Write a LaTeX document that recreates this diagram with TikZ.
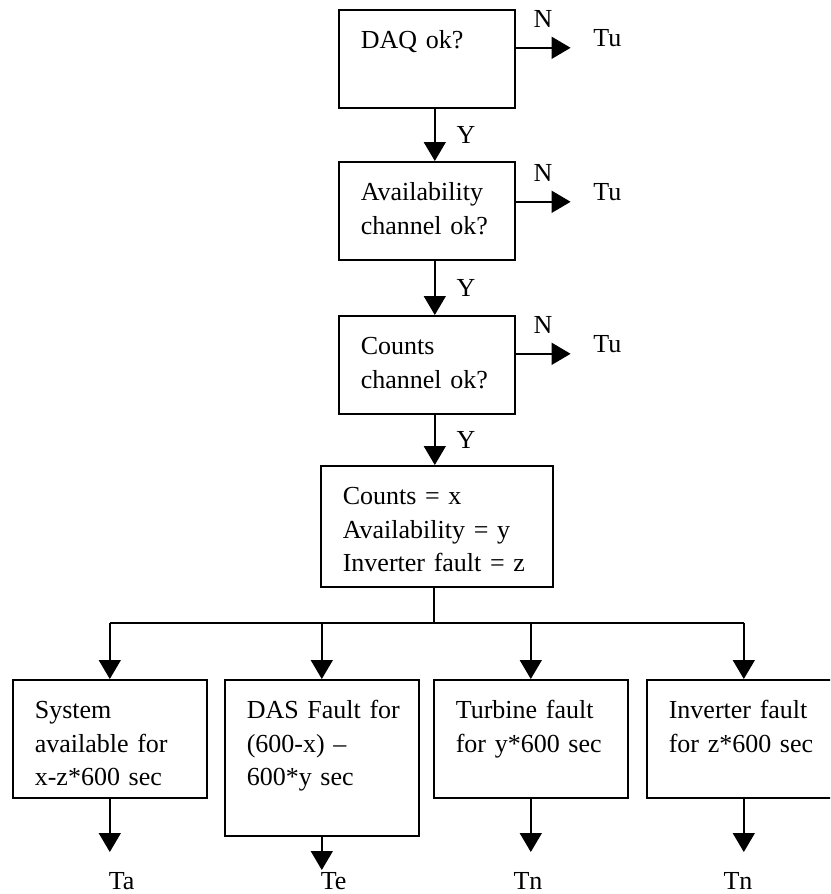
\documentclass[tikz,border=0pt]{standalone}
\usepackage{fontspec}
\setmainfont{Liberation Serif}
\usetikzlibrary{arrows.meta,shapes}

\tikzset{box/.style={draw,line width=.8pt,anchor=north west,align=left,inner xsep=11pt,inner ysep=0pt,text height=19.5pt},
lbl/.style={inner sep=0pt}}

\begin{document}
\begin{tikzpicture}[x=.5pt,y=-.5pt,>={Triangle[length=9.5pt,width=11pt]},line width=.8pt,font=\fontsize{13}{16.7}\selectfont]
\useasboundingbox (0,0) rectangle (830,894);
\clip (0,0) rectangle (830,894);
% checks
\node[box,text width=66pt,text depth=29.5pt] (daq) at (338,9) {DAQ ok?};
\node[box,text width=66pt,text depth=29.5pt] (avail) at (338,161) {Availability\\channel ok?};
\node[box,text width=66pt,text depth=29.5pt] (counts) at (338,315) {Counts\\channel ok?};
\node[box,text width=94pt,text depth=41pt] (vals) at (320,465) {Counts = x\\Availability = y\\Inverter fault = z};
% outcomes
\node[box,text width=75pt,text depth=39.5pt] (sys) at (12,679) {System\\available for\\x-z*600 sec};
\node[box,text width=75pt,text depth=58.5pt] (das) at (224,679) {\mbox{DAS Fault for}\\(600-x) --\\600*y sec};
\node[box,text width=75pt,text depth=39.5pt] (turb) at (433,679) {Turbine fault\\for y*600 sec};
\node[box,text width=75pt,text depth=39.5pt] (inv) at (646,679) {Inverter fault\\for z*600 sec};
% N branches
\coordinate (u1) at ([xshift=27.5pt,yshift=5.5pt]daq.east);
\coordinate (u2) at ([xshift=27.5pt,yshift=4.5pt]avail.east);
\coordinate (u3) at ([xshift=27.5pt,yshift=5.5pt]counts.east);
\draw[->] (daq.east |- u1) -- (u1) node[lbl,midway,above=10pt]{N};
\draw[->] (avail.east |- u2) -- (u2) node[lbl,midway,above=10pt]{N};
\draw[->] (counts.east |- u3) -- (u3) node[lbl,midway,above=10pt]{N};
\node[lbl,anchor=base west] (tu1) at ([xshift=11pt,yshift=.5pt]u1) {Tu};
\node[lbl,anchor=base west] (tu2) at ([xshift=11pt,yshift=.5pt]u2) {Tu};
\node[lbl,anchor=base west] (tu3) at ([xshift=11pt,yshift=.5pt]u3) {Tu};
% Y branches
\draw[->] ([xshift=4pt]daq.south) -- ([xshift=4pt]avail.north) node[lbl,midway,right=10.5pt]{Y};
\draw[->] ([xshift=4pt]avail.south) -- ([xshift=4pt]counts.north) node[lbl,midway,right=10.5pt]{Y};
\draw[->] ([xshift=4pt]counts.south) -- ([xshift=4pt]counts.south |- vals.north) node[lbl,midway,right=10.5pt]{Y};
% split
\coordinate (split) at (434,623);
\draw (split |- vals.south) -- (split);
\draw (split -| sys.north) -- (split -| inv.north);
\foreach \b in {sys,das,turb,inv}
  \draw[->] (split -| \b.north) -- (\b.north);
% ends
\coordinate (ea) at (sys.south |- 0,852);
\coordinate (ee) at (das.south |- 0,870);
\coordinate (en1) at (turb.south |- 0,852);
\coordinate (en2) at (inv.south |- 0,852);
\foreach \b/\e in {sys/ea,das/ee,turb/en1,inv/en2}
  \draw[->] (\b.south) -- (\e);
\node[lbl,anchor=base west] (ta) at (108,889) {Ta};
\node[lbl,anchor=base west] (te) at (320,889) {Te};
\node[lbl,anchor=base] (tn1) at (528,889) {Tn};
\node[lbl,anchor=base] (tn2) at (738,889) {Tn};
\end{tikzpicture}
\end{document}
